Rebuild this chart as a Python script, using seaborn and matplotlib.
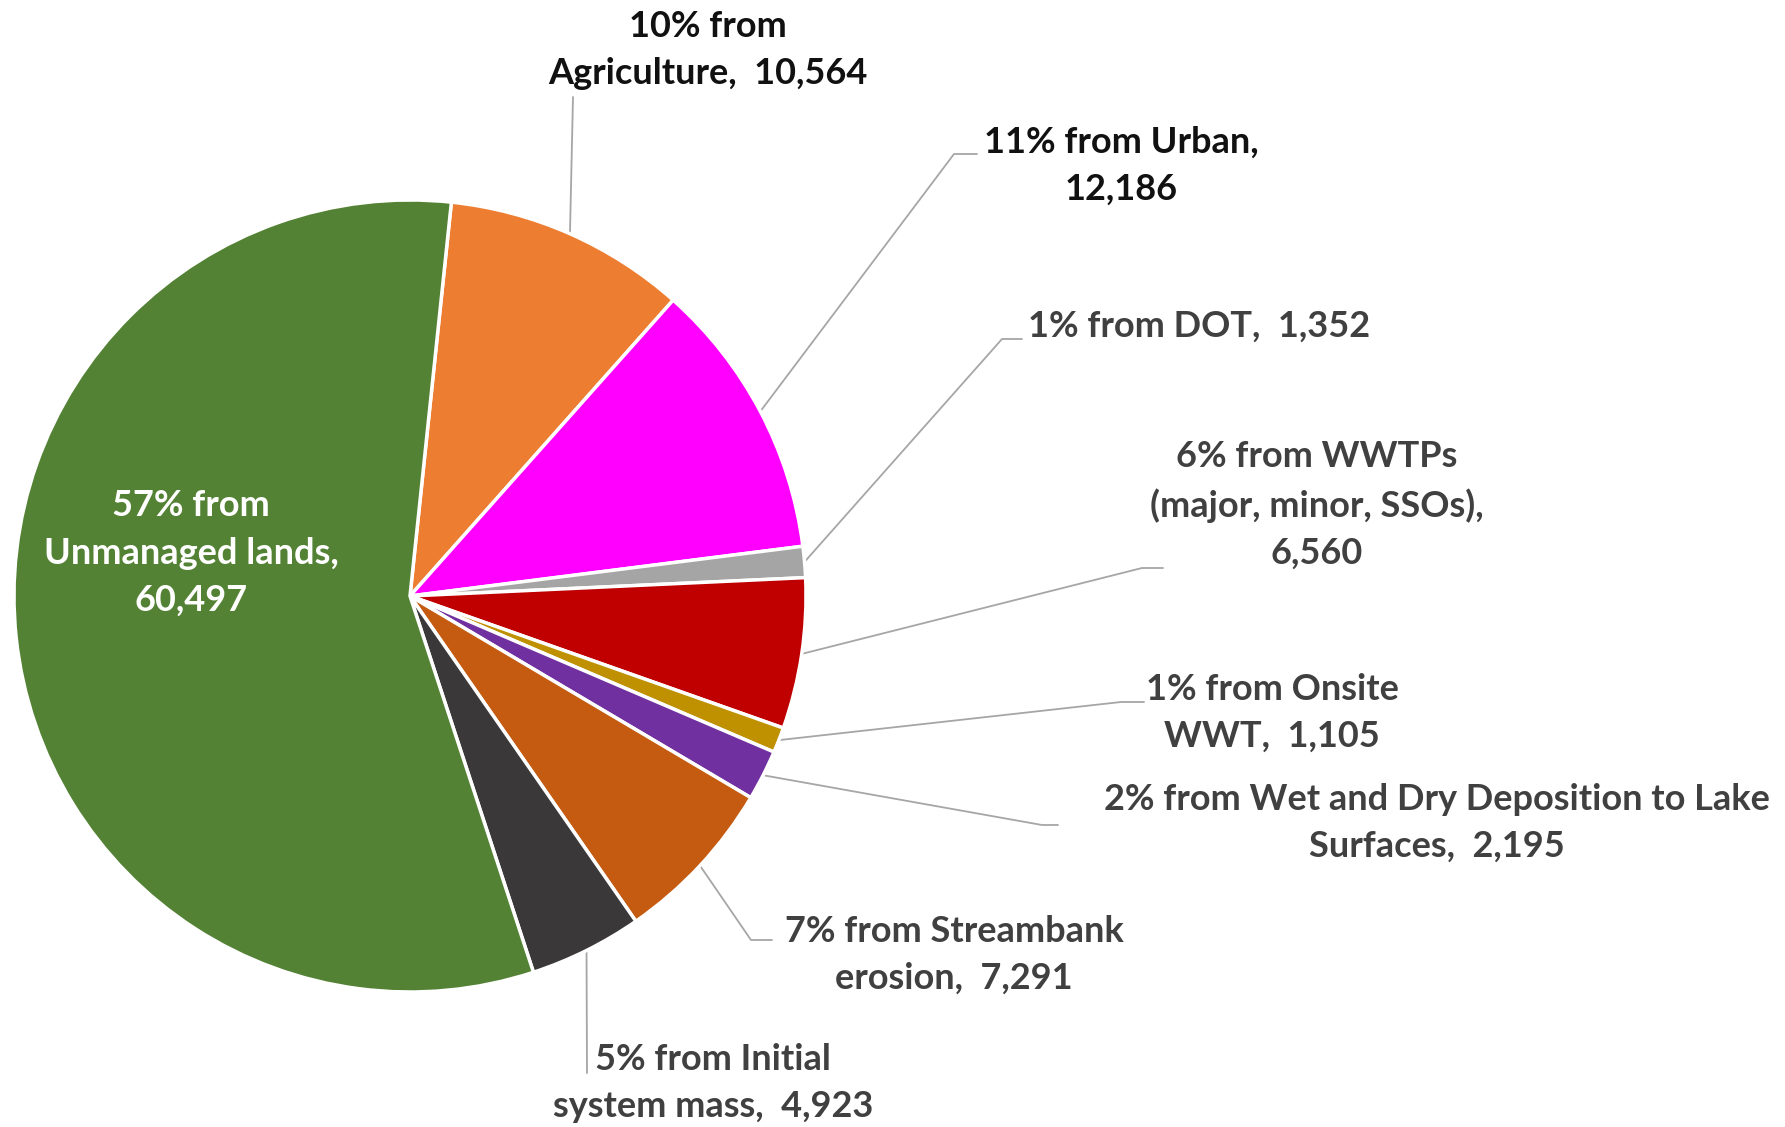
import numpy as np
import matplotlib
matplotlib.use("Agg")
import matplotlib.pyplot as plt
import seaborn as sns

# pie data, clockwise from the top
sources = ['Agriculture', 'Urban', 'DOT', 'WWTPs', 'Onsite WWT',
           'Wet and Dry Deposition', 'Streambank erosion', 'Initial system mass',
           'Unmanaged lands']
loads = [10564, 12186, 1352, 6560, 1105, 2195, 7291, 4923, 60497]
labels = ['10% from\nAgriculture,  10,564',
          '11% from Urban,\n12,186',
          '1% from DOT,  1,352',
          '6% from WWTPs\n(major, minor, SSOs),\n6,560',
          '1% from Onsite\nWWT,  1,105',
          '2% from Wet and Dry Deposition to Lake\nSurfaces,  2,195',
          '7% from Streambank\nerosion,  7,291',
          '5% from Initial\nsystem mass,  4,923',
          '57% from\nUnmanaged lands,\n60,497']
colors = ['#ED7D31', '#FF00FF', '#A5A5A5', '#C00000', '#BF9000',
          '#7030A0', '#C55A11', '#3A3838', '#548235']

sns.set_theme(style='white')
plt.rcParams['font.family'] = ['Lato', 'DejaVu Sans']

W, H = 1785, 1127
fig = plt.figure(figsize=(W / 100, H / 100), dpi=100)
ax = fig.add_axes([0, 0, 1, 1])

cx, cy, r = 410, H - 596, 396
wedges, _ = ax.pie(loads, colors=sns.color_palette(colors), startangle=84,
                   counterclock=False, center=(cx, cy), radius=r,
                   wedgeprops=dict(edgecolor='white', linewidth=2.5))
ax.set_xlim(0, W)
ax.set_ylim(0, H)
ax.set_aspect('equal')
ax.set_axis_off()

# label layout in pixel coords (x, y from top), leader path points
lab_pos = [(708, 50), (1121, 166), (1199, 326), (1317, 505), (1272, 713),
           (1437, 823), (954, 955), (713, 1083), (191, 553)]
leaders = [[(573, 97)],
           [(954, 154), (977, 154)],
           [(1002, 339), (1022, 339)],
           [(1142, 568), (1163, 568)],
           [(1121, 702), (1144, 702)],
           [(1042, 825), (1058, 825)],
           [(751, 940), (772, 940)],
           [(587, 1073)],
           None]
text_cols = ['#111111', '#111111', '#404040', '#404040', '#404040',
             '#404040', '#404040', '#404040', 'white']

for w, lab, (lx, ly), path, col in zip(wedges, labels, lab_pos, leaders, text_cols):
    ax.text(lx, H - ly, lab, ha='center', va='center', fontsize=26,
            fontweight='bold', color=col, linespacing=1.52)
    if path is None:
        continue
    mid = np.deg2rad((w.theta1 + w.theta2) / 2)
    xs = [cx + r * np.cos(mid)] + [p[0] for p in path]
    ys = [cy + r * np.sin(mid)] + [H - p[1] for p in path]
    ax.plot(xs, ys, color='#A6A6A6', lw=1.3, zorder=0)

fig.savefig('out.png', dpi=100, facecolor='white')
